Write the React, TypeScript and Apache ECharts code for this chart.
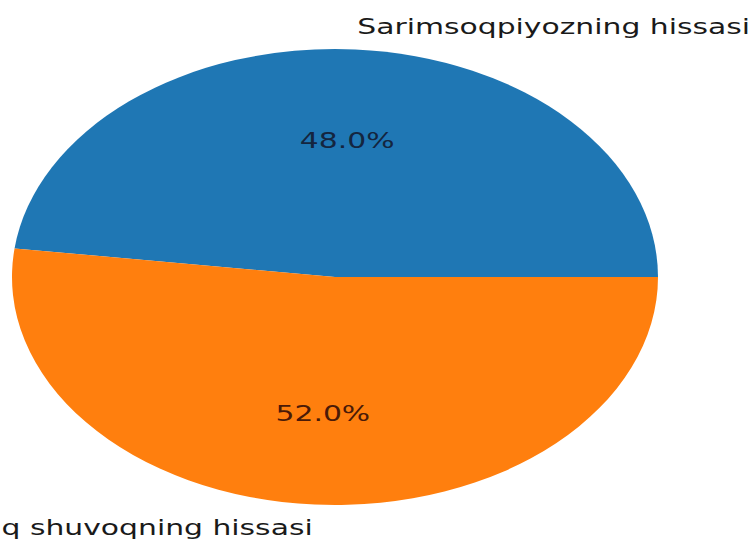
import React, { useEffect, useRef } from 'react';
import * as echarts from 'echarts';

const categories = ['Sarimsoqpiyozning hissasi', 'Achchiq shuvoqning hissasi'];
const shares = [48, 52];
const sliceColors = ['#1f77b4', '#ff7f0e'];
const pctColors = ['#14253f', '#4a1a08'];

export default function App() {
  const ref = useRef<HTMLDivElement>(null);

  useEffect(() => {
    const chart = echarts.init(ref.current as HTMLDivElement, null, { renderer: 'svg' });
    const total = shares.reduce((a, b) => a + b, 0);
    const cx = 335;
    const cy = 277;
    const rx = 323;
    const ry = 228;
    const font = 'DejaVu Sans';
    const fs = 21;
    const sx = 1.42;

    chart.setOption({
      animation: false,
      backgroundColor: '#ffffff',
      series: [
        {
          type: 'custom',
          coordinateSystem: 'none',
          silent: true,
          data: shares.map((v, i) => [v, i]),
          renderItem: (params: any, api: any) => {
            const v = api.value(0) as number;
            const i = api.value(1) as number;
            let before = 0;
            for (let k = 0; k < i; k++) before += shares[k];
            const a0 = (before / total) * 2 * Math.PI;
            const a1 = ((before + v) / total) * 2 * Math.PI;
            const mid = (a0 + a1) / 2;
            const c = Math.cos(mid);
            const s = Math.sin(mid);
            return {
              type: 'group',
              children: [
                {
                  type: 'group',
                  x: cx,
                  y: cy,
                  scaleY: ry / rx,
                  children: [
                    {
                      type: 'sector',
                      shape: { cx: 0, cy: 0, r0: 0, r: rx, startAngle: -a1, endAngle: -a0, clockwise: true },
                      style: { fill: sliceColors[i] },
                    },
                  ],
                },
                {
                  type: 'text',
                  x: cx + 0.6 * rx * c,
                  y: cy - 0.6 * ry * s,
                  scaleX: sx,
                  style: {
                    text: ((v / total) * 100).toFixed(1) + '%',
                    fontFamily: font,
                    fontSize: fs,
                    fill: pctColors[i],
                    align: 'center',
                    verticalAlign: 'middle',
                  },
                },
                {
                  type: 'text',
                  x: cx + 1.1 * rx * c,
                  y: cy - 1.1 * ry * s,
                  scaleX: sx,
                  style: {
                    text: categories[i],
                    fontFamily: font,
                    fontSize: fs,
                    fill: '#1a1a1a',
                    align: c >= 0 ? 'left' : 'right',
                    verticalAlign: 'middle',
                  },
                },
              ],
            };
          },
        },
      ],
    });

    return () => {
      chart.dispose();
    };
  }, []);

  return (
    <div
      ref={ref}
      style={{ position: 'fixed', left: 0, top: 0, width: 754, height: 541, background: '#fff' }}
    />
  );
}
